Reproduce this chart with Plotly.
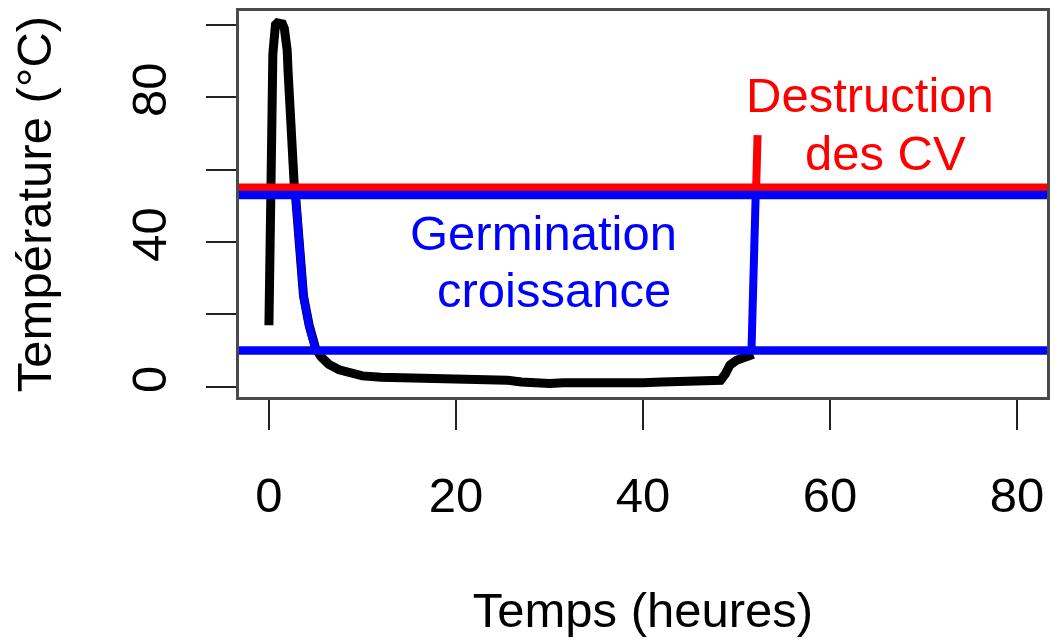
import plotly.graph_objects as go

# Temperature record (hours, °C)
time_h = [0.0, 0.2, 0.3, 0.42, 0.55, 0.7, 0.9, 1.2, 1.45, 1.65, 1.8, 1.95, 2.05, 2.15, 2.25,
          2.35, 2.5, 2.7, 2.9, 3.2, 3.7, 4.3, 5.0, 5.6, 6.4, 7.5, 8.5, 10, 12, 15, 18, 21,
          24, 25.5, 27, 28.5, 30, 31.5, 33, 35, 38, 40, 42, 45, 47, 48.3, 48.8, 49.3, 50,
          50.8, 51.5, 51.8]
temp_c = [17, 39, 70, 92, 98.5, 100, 100.5, 100.5, 100.2, 99, 97, 93, 87, 80, 73,
          68, 62, 56, 51, 39, 25, 17, 10.5, 8.2, 6.2, 4.7, 3.8, 3.0, 2.6, 2.5, 2.4, 2.3,
          2.1, 1.8, 1.3, 1.0, 0.9, 1.1, 1.0, 0.9, 0.9, 1.1, 1.3, 1.5, 1.6, 1.8, 3.5, 6.0,
          7.3, 7.9, 8.3, 9.0]

# Portions of the record inside the germination / growth window
germ_t = [2.85, 3.2, 3.7, 4.3, 5.0, None, 51.6, 52.05]
germ_c = [53, 39, 25, 16.7, 10.3, None, 10, 53]

# Portion above the destruction threshold
destr_t = [52.1, 52.25]
destr_c = [55, 69.5]

seuil_destruction = 55
seuil_germination_haut = 53
seuil_germination_bas = 10

x_ticks = [0, 20, 40, 60, 80]
y_ticks = [0, 20, 40, 60, 80, 100]
y_tick_text = ["0", "", "40", "", "80", ""]

FONT = "Liberation Sans, Arial, Helvetica, sans-serif"
FS = 49
RED = "#ff0000"
BLUE = "#0000ff"

fig = go.Figure()
fig.add_trace(go.Scatter(x=time_h, y=temp_c, mode="lines",
                         line=dict(color="black", width=9), hoverinfo="skip"))
fig.add_trace(go.Scatter(x=germ_t, y=germ_c, mode="lines", connectgaps=False,
                         line=dict(color=BLUE, width=8), hoverinfo="skip"))
fig.add_trace(go.Scatter(x=destr_t, y=destr_c, mode="lines",
                         line=dict(color=RED, width=8), hoverinfo="skip"))

fig.add_hline(y=seuil_destruction, line=dict(color=RED, width=8.5))
fig.add_hline(y=seuil_germination_haut, line=dict(color=BLUE, width=8.5))
fig.add_hline(y=seuil_germination_bas, line=dict(color=BLUE, width=8.5))

labels = [
    ("Destruction", 64.27, 80.6, RED),
    ("des CV", 65.9, 64.6, RED),
    ("Germination", 29.35, 42.6, BLUE),
    ("croissance", 30.5, 26.8, BLUE),
]
for txt, xv, yv, col in labels:
    fig.add_annotation(x=xv, y=yv, text=txt, showarrow=False, xanchor="center",
                       yanchor="middle", font=dict(family=FONT, size=FS, color=col))

axis_common = dict(showgrid=False, zeroline=False, showline=True, mirror=True,
                   linecolor="#4a4a4a", linewidth=3, ticks="outside", ticklen=30,
                   tickwidth=2, tickcolor="#222", tickfont=dict(family=FONT, size=FS, color="black"),
                   automargin=False)

fig.update_xaxes(range=[-3.2, 83.2], tickvals=x_ticks, ticklabelstandoff=23,
                 title=dict(text="Temps (heures)", font=dict(family=FONT, size=FS, color="black"),
                            standoff=72),
                 **axis_common)
fig.update_yaxes(range=[-2.83, 103.8], tickvals=y_ticks, ticktext=y_tick_text,
                 tickangle=-90, ticklabelstandoff=20,
                 title=dict(text="Température (°C)", font=dict(family=FONT, size=FS, color="black"),
                            standoff=56),
                 **axis_common)

fig.update_layout(width=1062, height=642, showlegend=False,
                  margin=dict(l=239, r=15, t=11, b=245),
                  paper_bgcolor="white", plot_bgcolor="white", template="none")

fig.write_html("out.html")
